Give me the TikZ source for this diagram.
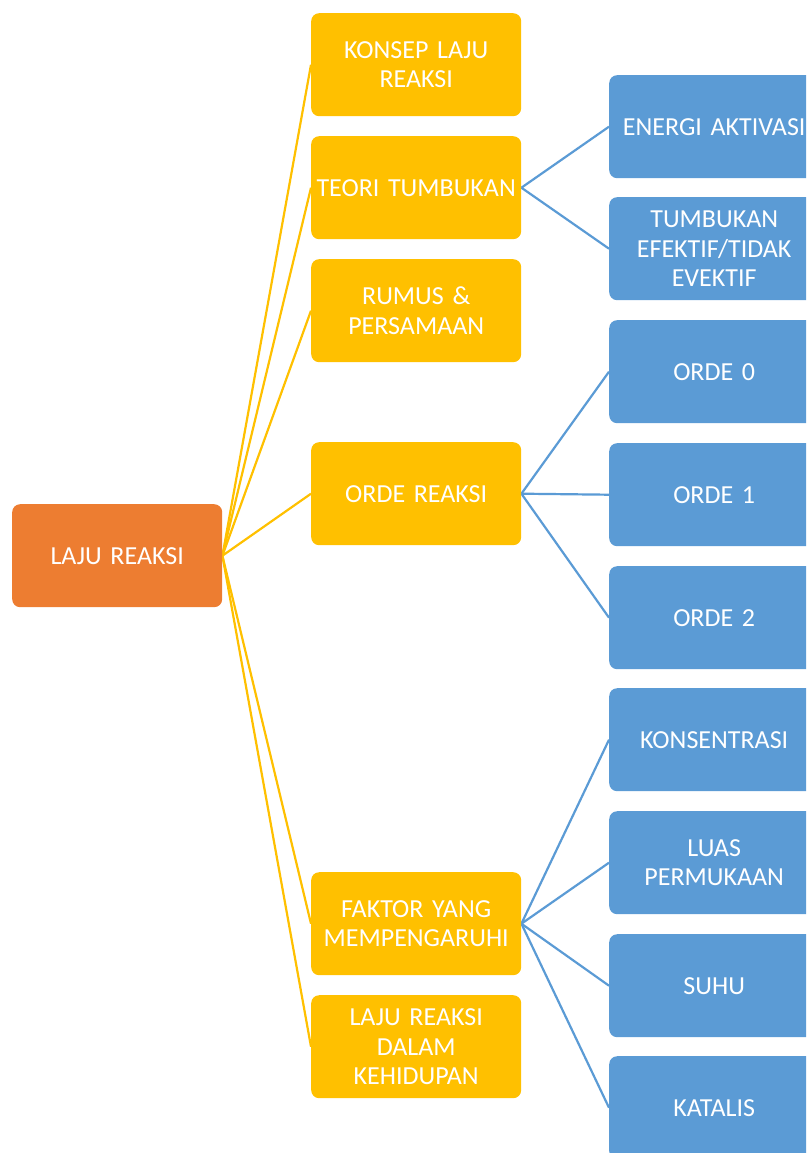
\documentclass[tikz,border=0pt]{standalone}
\usepackage{fontspec}
\setmainfont{Carlito}[WordSpace=0.75]
\usetikzlibrary{backgrounds}
\definecolor{corange}{HTML}{ED7D31}
\definecolor{cyellow}{HTML}{FFC000}
\definecolor{cblue}{HTML}{5B9BD5}
\tikzset{
  box/.style={rectangle, rounded corners=8pt, minimum width=210pt, minimum height=103pt,
    text width=208pt, align=center, inner sep=0pt, text=white, anchor=north west,
    font=\fontsize{26}{29.5}\selectfont},
  rootbox/.style={box, fill=corange},
  lvlone/.style={box, fill=cyellow},
  lvltwo/.style={box, fill=cblue},
  yline/.style={draw=cyellow, line width=2.2pt},
  bline/.style={draw=cblue, line width=2.2pt},
}
\begin{document}
\begin{tikzpicture}[x=1pt,y=-1pt]
\clip (0,0) rectangle (806,1153);
\node[rootbox] (root) at (12,504) {LAJU REAKSI};
\node[lvlone] (konsep) at (311,13) {KONSEP LAJU\\REAKSI};
\node[lvlone] (teori) at (311,136) {TEORI TUMBUKAN};
\node[lvlone] (rumus) at (311,259) {RUMUS \&\\PERSAMAAN};
\node[lvlone] (orde) at (311,442) {ORDE REAKSI};
\node[lvlone] (faktor) at (311,872) {FAKTOR YANG\\MEMPENGARUHI};
\node[lvlone] (hidup) at (311,995) {LAJU REAKSI\\DALAM\\KEHIDUPAN};
\node[lvltwo] (energi) at (609,75) {ENERGI AKTIVASI};
\node[lvltwo] (efektif) at (609,197) {TUMBUKAN\\EFEKTIF/TIDAK\\EVEKTIF};
\node[lvltwo] (o0) at (609,320) {ORDE 0};
\node[lvltwo] (o1) at (609,443) {ORDE 1};
\node[lvltwo] (o2) at (609,566) {ORDE 2};
\node[lvltwo] (kons) at (609,688) {KONSENTRASI};
\node[lvltwo] (luas) at (609,811) {LUAS\\PERMUKAAN};
\node[lvltwo] (suhu) at (609,934) {SUHU};
\node[lvltwo] (katalis) at (609,1056) {KATALIS};
\begin{pgfonlayer}{background}
\foreach \c in {konsep,teori,rumus,orde,faktor,hidup}
  \draw[yline] (root.east) -- (\c.west);
\foreach \c in {energi,efektif}
  \draw[bline] (teori.east) -- (\c.west);
\foreach \c in {o0,o1,o2}
  \draw[bline] (orde.east) -- (\c.west);
\foreach \c in {kons,luas,suhu,katalis}
  \draw[bline] (faktor.east) -- (\c.west);
\end{pgfonlayer}
\end{tikzpicture}
\end{document}
